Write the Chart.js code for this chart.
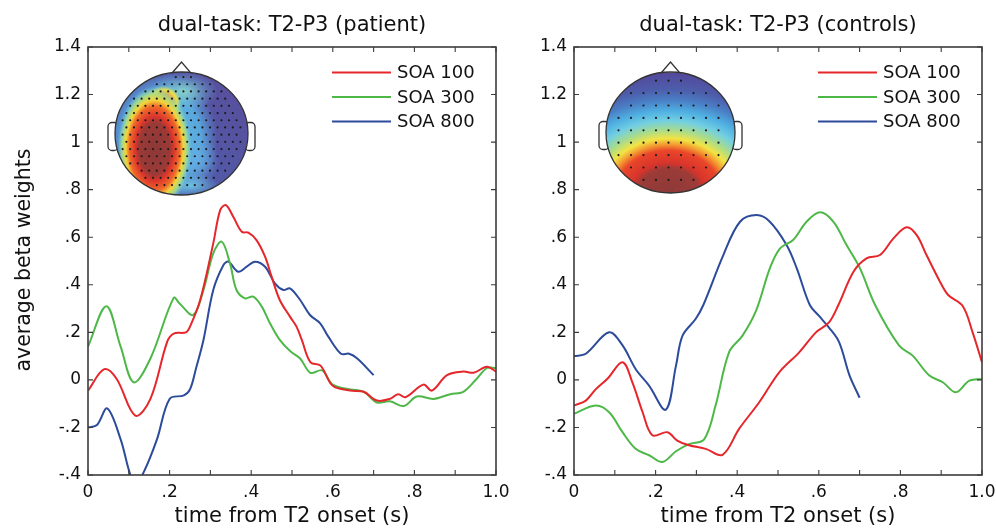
<!DOCTYPE html>
<html>
<head>
<meta charset="utf-8">
<script src="https://cdn.jsdelivr.net/npm/chart.js@4.4.0/dist/chart.umd.min.js"></script>
<style>
  html, body { margin: 0; padding: 0; background: #fff; overflow: hidden; }
  #wrap { position: relative; width: 996px; height: 530px; overflow: hidden; font-family: "DejaVu Sans", sans-serif; color: #111; }
  canvas { position: absolute; top: 0; }
  .txt { position: absolute; white-space: nowrap; text-align: center; }
</style>
</head>
<body>
<div id="wrap">
  <canvas id="left" width="540" height="530" style="left:0"></canvas>
  <canvas id="right" width="540" height="530" style="left:470px"></canvas>
  <div class="txt" style="left:92px;width:400px;top:12px;font-size:21px;line-height:24px">dual-task: T2-P3 (patient)</div>
  <div class="txt" style="left:578px;width:400px;top:12px;font-size:21px;line-height:24px">dual-task: T2-P3 (controls)</div>
  <div class="txt" style="left:92px;width:400px;top:503px;font-size:21px;line-height:24px">time from T2 onset (s)</div>
  <div class="txt" style="left:578px;width:400px;top:503px;font-size:21px;line-height:24px">time from T2 onset (s)</div>
  <div class="txt" style="left:-127px;width:300px;top:248px;font-size:20.5px;line-height:24px;transform:rotate(-90deg)">average beta weights</div>
</div>
<script>
// axes
var xTickValues = [0, 0.2, 0.4, 0.6, 0.8, 1.0];
var xTickLabels = ['0', '.2', '.4', '.6', '.8', '1.0'];
var xMinorTicks = [0, 0.1, 0.2, 0.3, 0.4, 0.5, 0.6, 0.7, 0.8, 0.9, 1.0];
var yTickValues = [-0.4, -0.2, 0, 0.2, 0.4, 0.6, 0.8, 1.0, 1.2, 1.4];
var yTickLabels = ['-.4', '-.2', '0', '.2', '.4', '.6', '.8', '1', '1.2', '1.4'];
var seriesNames = ['SOA 100', 'SOA 300', 'SOA 800'];
var seriesColors = ['#e5272c', '#4db848', '#2d4b9b'];

// patient panel
var patientT100 = [0, .04, .07, .116, .153, .194, .21, .24, .25, .275, .307, .324, .338, .356, .377, .393, .413, .434, .45, .47, .495, .511, .524, .545, .57, .6, .643, .676, .708, .74, .76, .778, .822, .843, .88, .92, .945, .978, 1];
var patientV100 = [-.045, .045, .005, -.15, -.08, .16, .195, .2, .224, .336, .574, .714, .735, .686, .623, .619, .588, .518, .434, .336, .266, .224, .168, .075, .06, -.025, -.045, -.05, -.087, -.08, -.06, -.073, -.02, -.045, .02, .035, .03, .055, .035];
var patientT300 = [0, .045, .08, .112, .153, .21, .225, .258, .283, .307, .328, .348, .364, .385, .405, .426, .446, .47, .496, .52, .545, .574, .6, .643, .676, .708, .74, .774, .806, .847, .888, .92, .953, .978, 1];
var patientV300 = [.14, .31, .14, -.01, .09, .345, .32, .273, .378, .532, .581, .49, .378, .343, .35, .308, .238, .168, .12, .09, .03, .04, -.02, -.04, -.05, -.095, -.09, -.11, -.07, -.08, -.06, -.05, .005, .05, .05];
var patientT800 = [0, .022, .047, .08, .104, .118, .136, .169, .2, .235, .25, .265, .283, .307, .332, .344, .368, .389, .409, .434, .458, .479, .495, .52, .544, .569, .589, .62, .64, .66, .7];
var patientV800 = [-.2, -.19, -.12, -.25, -.4, -.43, -.39, -.25, -.08, -.065, -.04, .05, .168, .378, .483, .497, .455, .476, .497, .476, .406, .378, .385, .336, .273, .238, .182, .11, .11, .09, .02];

// controls panel
var controlT100 = [0, .029, .053, .082, .119, .143, .168, .192, .229, .253, .282, .323, .364, .405, .454, .503, .552, .593, .625, .648, .685, .717, .75, .783, .815, .84, .864, .897, .917, .953, .977, 1];
var controlV100 = [-.108, -.087, -.04, .005, .074, -.01, -.135, -.233, -.22, -.255, -.275, -.29, -.315, -.205, -.094, .032, .116, .2, .242, .315, .455, .511, .525, .595, .642, .609, .525, .413, .357, .31, .2, .074];
var controlT300 = [0, .053, .086, .119, .151, .184, .217, .25, .282, .319, .347, .38, .413, .446, .48, .505, .537, .57, .603, .636, .668, .701, .738, .797, .83, .871, .904, .936, .969, 1];
var controlV300 = [-.143, -.108, -.136, -.22, -.29, -.317, -.345, -.3, -.27, -.25, -.108, .116, .186, .29, .469, .553, .588, .665, .705, .665, .567, .469, .315, .144, .102, .018, -.01, -.052, -.003, .004];
var controlT800 = [0, .029, .086, .119, .151, .184, .225, .25, .266, .298, .317, .366, .407, .448, .48, .521, .546, .578, .6, .625, .65, .675, .7];
var controlV800 = [.1, .11, .2, .145, .046, -.024, -.125, .06, .186, .256, .315, .525, .665, .693, .665, .567, .469, .315, .27, .22, .158, .02, -.075];

function toPoints(t, v) {
  return t.map(function(x, i) { return { x: x, y: v[i] }; });
}

function ellipsePath(ctx, cx, cy, rx, ry) {
  ctx.beginPath();
  ctx.ellipse(cx, cy, rx, ry, 0, 0, Math.PI * 2);
}

function blob(ctx, cx, cy, rx, ry, stops) {
  ctx.save();
  ctx.translate(cx, cy);
  ctx.scale(1, ry / rx);
  var g = ctx.createRadialGradient(0, 0, 0, 0, 0, rx);
  stops.forEach(function(s) { g.addColorStop(s[0], s[1]); });
  ctx.fillStyle = g;
  ctx.fillRect(-rx, -rx, rx * 2, rx * 2);
  ctx.restore();
}

function drawDots(ctx, cx, cy, rx, ry, dx, dy, stagger, inset) {
  ctx.fillStyle = '#1b1b1b';
  var row = 0;
  for (var yy = cy - ry + dy * 0.7; yy < cy + ry; yy += dy, row++) {
    var off = stagger && row % 2 ? dx / 2 : 0;
    for (var xx = cx - rx + off; xx < cx + rx; xx += dx) {
      var e = Math.pow((xx - cx) / (rx * inset), 2) + Math.pow((yy - cy) / (ry * inset), 2);
      if (e < 1) {
        ctx.beginPath();
        ctx.arc(xx, yy, 1.1, 0, Math.PI * 2);
        ctx.fill();
      }
    }
  }
}

function drawHead(ctx, cx, cy, rx, ry, kind) {
  ctx.save();
  ctx.strokeStyle = '#333';
  ctx.lineWidth = 1.3;
  // nose and ears
  ctx.fillStyle = '#fff';
  ctx.beginPath();
  ctx.moveTo(cx - 12, cy - ry + 4);
  ctx.lineTo(cx, cy - ry - 10);
  ctx.lineTo(cx + 12, cy - ry + 4);
  ctx.closePath();
  ctx.fill(); ctx.stroke();
  [-1, 1].forEach(function(side) {
    var ex = side < 0 ? cx - rx - 7 : cx + rx - 3;
    ctx.beginPath();
    ctx.roundRect(ex, cy - 11, 10, 28, 4);
    ctx.fill(); ctx.stroke();
  });

  ctx.save();
  ellipsePath(ctx, cx, cy, rx, ry);
  ctx.clip();
  if (kind === 'patient') {
    var base = ctx.createLinearGradient(cx + rx, cy - ry, cx - rx, cy + ry);
    base.addColorStop(0, '#5a4d9b');
    base.addColorStop(1, '#4a63b2');
    ctx.fillStyle = base;
    ctx.fillRect(cx - rx, cy - ry, rx * 2, ry * 2);
    blob(ctx, cx - 20, cy + 4, 56, 66, [[0, 'rgba(100,200,235,1)'], [0.7, 'rgba(90,180,230,0.85)'], [1, 'rgba(90,160,220,0)']]);
    blob(ctx, cx + 2, cy - 42, 34, 20, [[0, 'rgba(140,215,200,0.95)'], [1, 'rgba(100,190,230,0)']]);
    blob(ctx, cx + 16, cy + 27, 22, 25, [[0, 'rgba(100,175,228,0.9)'], [1, 'rgba(100,175,228,0)']]);
    blob(ctx, cx + 10, cy + 52, 28, 12, [[0, 'rgba(110,200,230,0.9)'], [1, 'rgba(110,200,230,0)']]);
    blob(ctx, cx - 18, cy - 31, 18, 17, [[0, '#e0382c'], [0.5, '#f0a030'], [0.75, '#f3e040'], [1, 'rgba(160,220,150,0)']]);
    blob(ctx, cx - 27, cy + 15, 37, 62, [[0, '#8d3838'], [0.42, '#9b3a36'], [0.52, '#dc352c'], [0.68, '#ef6a2a'], [0.78, '#f4d43a'], [0.88, 'rgba(170,222,130,0.9)'], [1, 'rgba(120,210,220,0)']]);
    drawDots(ctx, cx, cy, rx, ry, 7.6, 7.2, true, 0.93);
  } else {
    blob(ctx, cx - 2, cy + 60, 150, 120, [
      [0, '#8d3a3a'], [0.2, '#9c3b37'], [0.25, '#d8342c'], [0.35, '#e9462a'],
      [0.4, '#f39a30'], [0.45, '#f2e444'], [0.52, '#a8dc8c'], [0.6, '#72cfe2'],
      [0.68, '#4fb0e2'], [0.77, '#4a7fc6'], [0.86, '#4d5eab'], [1, '#54479a']
    ]);
    drawDots(ctx, cx, cy, rx, ry, 12.5, 12.4, false, 0.9);
  }
  ctx.restore();
  ellipsePath(ctx, cx, cy, rx, ry);
  ctx.stroke();
  ctx.restore();
}

var framePlugin = {
  id: 'frame',
  afterDatasetsDraw: function(chart) {
    var ctx = chart.ctx, a = chart.chartArea, x = chart.scales.x, y = chart.scales.y;
    ctx.save();
    ctx.strokeStyle = '#3c3c3c';
    ctx.lineWidth = 1.6;
    ctx.strokeRect(a.left, a.top, a.right - a.left, a.bottom - a.top);
    ctx.lineWidth = 1.1;
    ctx.beginPath();
    xMinorTicks.forEach(function(v) {
      var px = x.getPixelForValue(v);
      ctx.moveTo(px, a.bottom); ctx.lineTo(px, a.bottom - 5);
      ctx.moveTo(px, a.top); ctx.lineTo(px, a.top + 5);
    });
    yTickValues.forEach(function(v) {
      var py = y.getPixelForValue(v);
      ctx.moveTo(a.left, py); ctx.lineTo(a.left + 5, py);
      ctx.moveTo(a.right, py); ctx.lineTo(a.right - 5, py);
    });
    ctx.stroke();

    // legend
    ctx.font = '18px "DejaVu Sans"';
    ctx.textBaseline = 'middle';
    ctx.textAlign = 'left';
    chart.data.datasets.forEach(function(ds, i) {
      var ly = a.top + 25.5 + i * 24.5;
      ctx.strokeStyle = ds.borderColor;
      ctx.lineWidth = 2;
      ctx.beginPath();
      ctx.moveTo(a.right - 164, ly); ctx.lineTo(a.right - 105, ly);
      ctx.stroke();
      ctx.fillStyle = '#111';
      ctx.fillText(ds.label, a.right - 99, ly + 1);
    });
    ctx.restore();
  },
  afterDraw: function(chart) {
    var o = chart.options.plugins.frame;
    var a = chart.chartArea;
    drawHead(chart.ctx, a.left + o.headX, a.top + o.headY, o.headRx, o.headRy, o.kind);
  }
};

function makeChart(id, series, o) {
  var datasets = series.map(function(s, i) {
    return {
      label: seriesNames[i],
      data: toPoints(s[0], s[1]),
      borderColor: seriesColors[i],
      borderWidth: 2,
      pointRadius: 0,
      tension: 0.35,
      fill: false
    };
  });
  var tickFont = { family: 'DejaVu Sans', size: 17 };
  return new Chart(document.getElementById(id), {
    type: 'line',
    data: { datasets: datasets },
    plugins: [framePlugin],
    options: {
      responsive: false,
      animation: false,
      layout: { padding: { top: 47, right: o.padRight, left: 0, bottom: 0 } },
      plugins: {
        legend: { display: false },
        tooltip: { enabled: false },
        frame: o
      },
      scales: {
        x: {
          type: 'linear', min: 0, max: 1,
          grid: { display: false, drawTicks: false }, border: { display: false },
          afterBuildTicks: function(s) { s.ticks = xTickValues.map(function(v) { return { value: v }; }); },
          afterFit: function(s) { s.height = 55; },
          ticks: { padding: 7, autoSkip: false, maxRotation: 0, color: '#111', font: tickFont,
            callback: function(v, i) { return xTickLabels[i]; } }
        },
        y: {
          type: 'linear', min: -0.4, max: 1.4,
          grid: { display: false, drawTicks: false }, border: { display: false },
          afterBuildTicks: function(s) { s.ticks = yTickValues.map(function(v) { return { value: v }; }); },
          afterFit: function(s) { s.width = o.yWidth; },
          ticks: { padding: 7, autoSkip: false, color: '#111', font: tickFont,
            callback: function(v, i) { return yTickLabels[i]; } }
        }
      }
    }
  });
}

makeChart('left', [[patientT100, patientV100], [patientT300, patientV300], [patientT800, patientV800]],
  { yWidth: 88, padRight: 44, headX: 93.5, headY: 86.5, headRx: 66.5, headRy: 61.5, kind: 'patient' });
makeChart('right', [[controlT100, controlV100], [controlT300, controlV300], [controlT800, controlV800]],
  { yWidth: 104, padRight: 28, headX: 96.5, headY: 85.5, headRx: 64.5, headRy: 60.5, kind: 'controls' });
</script>
</body>
</html>
